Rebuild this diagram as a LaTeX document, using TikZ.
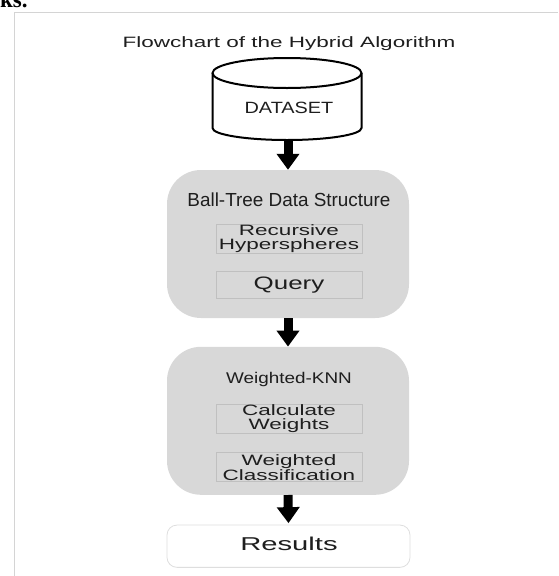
\documentclass[tikz,border=0pt]{standalone}
\usepackage{fontspec}
\setmainfont{Liberation Sans}
\newfontfamily\pagefont{Liberation Serif}
\usetikzlibrary{arrows.meta}
\definecolor{boxgrey}{RGB}{216,216,216}
\definecolor{edgegrey}{RGB}{192,192,192}
\definecolor{textdark}{RGB}{30,30,30}
\definecolor{framegrey}{RGB}{212,212,212}
\definecolor{resultedge}{RGB}{222,222,222}
\newcommand\wfont[3]{\fontsize{#1}{#2}\selectfont\addfontfeature{FakeStretch=#3}}
\tikzset{
	stage/.style={fill=boxgrey, rounded corners=34pt, minimum width=242pt, minimum height=148pt, inner sep=0pt},
	substep/.style={draw=edgegrey, line width=0.6pt, fill=boxgrey, minimum width=146pt, inner sep=0pt, align=center, text=textdark},
	label/.style={anchor=base, inner sep=0pt, text=textdark},
	bigarrow/.style={line width=9pt, -{Triangle[width=22pt, length=16pt]}},
}
\begin{document}
\begin{tikzpicture}[x=1pt, y=-1pt]
	\useasboundingbox (0,0) rectangle (558,576);
	\begin{scope}
		\clip (0,0) rectangle (558,576);
		\node[anchor=base west, inner sep=0pt] (pagetext) at (0,7) {\pagefont\bfseries\fontsize{23}{23}\selectfont ks.};
	\end{scope}
	\draw[framegrey, line width=1pt] (14,576) -- (14,12.5) -- (558,12.5);
	\node[label] (title) at (289,47.3) {\wfont{15}{15}{1.5}Flowchart of the Hybrid Algorithm};
	\draw[line width=2pt] (212.5,73) -- (212.5,128) arc[start angle=180, end angle=0, x radius=74.5, y radius=12] -- (361.5,73);
	\draw[line width=2pt] (287,73) ellipse[x radius=74.5, y radius=15];
	\node[label] (dataset) at (289,113.3) {\wfont{16.3}{16.3}{1.22}DATASET};
	\coordinate (dbbot) at (288,140);
	\node[stage] (ball) at (288,244) {};
	\node[label] (balltitle) at (289,206.7) {\wfont{18.9}{18.9}{1.0}Ball-Tree Data Structure};
	\node[substep, minimum height=29pt, font=\wfont{15}{13.4}{1.5}] (recur) at (289,238.8) {Recursive\\Hyperspheres};
	\node[substep, minimum height=26.6pt, font=\wfont{18}{18}{1.44}] (query) at (289,285) {Query};
	\node[stage] (knn) at (288,420.8) {};
	\node[label] (knntitle) at (289,383.3) {\wfont{15.5}{15.5}{1.22}Weighted-KNN};
	\node[substep, minimum height=29.3pt, font=\wfont{15}{13.4}{1.5}] (calc) at (289,418.7) {Calculate\\Weights};
	\node[substep, minimum height=29pt, font=\wfont{15}{13.4}{1.5}] (classify) at (289,467.2) {Weighted\\Classification};
	\node[draw=resultedge, line width=0.8pt, fill=white, rounded corners=10pt, minimum width=243pt, minimum height=42.3pt, inner sep=0pt] (results) at (288.5,546.2) {};
	\node[label] (resultstext) at (289,550.7) {\wfont{18.6}{18.6}{1.57}Results};
	\draw[bigarrow] (dbbot) -- (ball.north);
	\draw[bigarrow] (ball.south) -- (knn.north);
	\draw[bigarrow] (knn.south) -- ([yshift=1.5pt]results.north);
\end{tikzpicture}
\end{document}
